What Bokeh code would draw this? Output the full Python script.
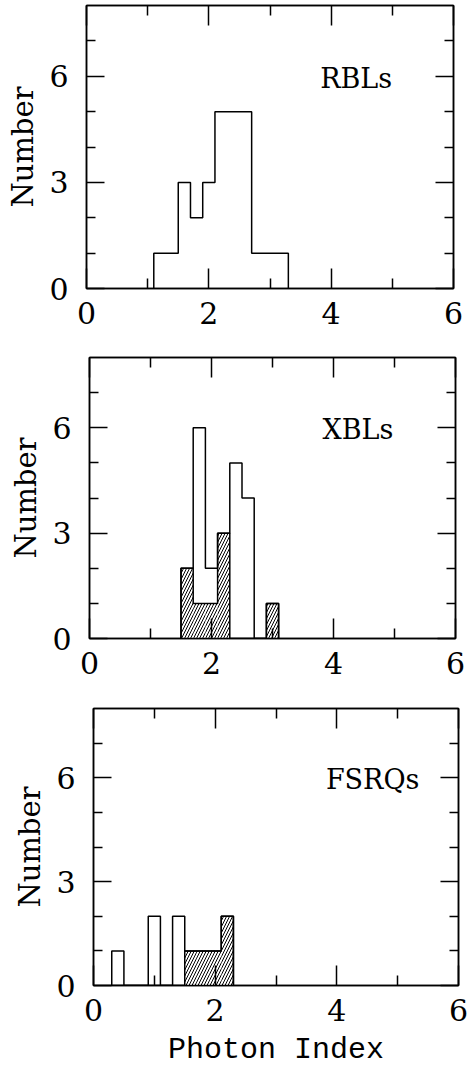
from bokeh.plotting import figure
from bokeh.models import Range1d, LinearAxis, FixedTicker
from bokeh.layouts import column
from bokeh.core.properties import value
from bokeh.embed import file_html
from bokeh.resources import INLINE

# ---------------- data ----------------
bin_width = 0.2

rbl_left = [1.1, 1.3, 1.5, 1.7, 1.9, 2.1, 2.3, 2.5, 2.7, 2.9, 3.1]
rbl_total = [1, 1, 3, 2, 3, 5, 5, 5, 1, 1, 1]

xbl_left = [1.5, 1.7, 1.9, 2.1, 2.3, 2.5, 2.7, 2.9]
xbl_total = [2, 6, 2, 3, 5, 4, 0, 1]
xbl_hatched = [2, 1, 1, 3, 0, 0, 0, 1]

fsrq_left = [0.3, 0.5, 0.7, 0.9, 1.1, 1.3, 1.5, 1.7, 1.9, 2.1]
fsrq_total = [1, 0, 0, 2, 0, 2, 1, 1, 1, 2]
fsrq_hatched = [0, 0, 0, 0, 0, 0, 1, 1, 1, 2]

x_major = [0, 2, 4, 6]
x_minor = [1, 3, 5]
y_major = [0, 3, 6]
y_minor = [1, 2, 4, 5, 7]

labels = ["RBLs", "XBLs", "FSRQs"]
x_label = "Photon Index"
y_label = "Number"

SERIF = "DejaVu Serif"
MONO = "Liberation Mono"


def step_xy(left, counts):
    xs = [left[0]]
    ys = [0]
    for l, c in zip(left, counts):
        xs.append(l)
        ys.append(c)
    xs.append(left[-1] + bin_width)
    ys.append(0)
    return xs, ys


def style_axis(ax, ticks, minor, tick_in, minor_in, show_labels):
    ax.ticker = FixedTicker(ticks=ticks, minor_ticks=minor)
    ax.axis_line_color = "black"
    ax.axis_line_width = 1.5
    ax.major_tick_line_color = "black"
    ax.major_tick_line_width = 1.5
    ax.minor_tick_line_color = "black"
    ax.minor_tick_line_width = 1.5
    ax.major_tick_in = tick_in
    ax.major_tick_out = 0
    ax.minor_tick_in = minor_in
    ax.minor_tick_out = 0
    if show_labels:
        ax.major_label_text_font = SERIF
        ax.major_label_text_font_size = "30px"
        ax.major_label_text_color = "black"
    else:
        ax.major_label_overrides = {t: "" for t in ticks}
        ax.major_label_standoff = 0


def make_panel(left, total, hatched, label, border, fw, fh, show_xlabel):
    bl, bt, br, bb = border
    p = figure(frame_width=fw, frame_height=fh,
               min_border_left=bl, min_border_top=bt,
               min_border_right=br, min_border_bottom=bb,
               x_range=Range1d(0, 6), y_range=Range1d(0, 8),
               output_backend="svg", toolbar_location=None,
               x_axis_location=None, y_axis_location=None)
    p.frame_align = False
    p.grid.visible = False
    p.outline_line_color = "black"
    p.outline_line_width = 1.5
    p.background_fill_color = "white"
    p.border_fill_color = "white"

    bottom = LinearAxis()
    style_axis(bottom, x_major, x_minor, 20, 10, True)
    bottom.major_label_standoff = 13
    if show_xlabel:
        bottom.axis_label = x_label
        bottom.axis_label_text_font = MONO
        bottom.axis_label_text_font_size = "30px"
        bottom.axis_label_text_font_style = "normal"
        bottom.axis_label_text_color = "black"
        bottom.axis_label_standoff = 9
    p.add_layout(bottom, "below")

    top = LinearAxis()
    style_axis(top, x_major, x_minor, 20, 10, False)
    p.add_layout(top, "above")

    left_ax = LinearAxis()
    style_axis(left_ax, y_major, y_minor, 18, 9, True)
    left_ax.major_label_standoff = 18
    left_ax.axis_label = y_label
    left_ax.axis_label_text_font = SERIF
    left_ax.axis_label_text_font_size = "29px"
    left_ax.axis_label_text_font_style = "normal"
    left_ax.axis_label_text_color = "black"
    left_ax.axis_label_standoff = 6
    p.add_layout(left_ax, "left")

    right_ax = LinearAxis()
    style_axis(right_ax, y_major, y_minor, 18, 9, False)
    p.add_layout(right_ax, "right")

    if hatched is not None:
        rights = [l + bin_width for l in left]
        p.quad(left=left, right=rights, bottom=[0] * len(left), top=hatched,
               fill_color="white", line_color=None,
               hatch_pattern="/", hatch_color="black",
               hatch_scale=6, hatch_weight=1.0)
        hx, hy = step_xy(left, hatched)
        p.step(x=hx, y=hy, mode="after", line_color="black", line_width=1.5)

    tx, ty = step_xy(left, total)
    p.step(x=tx, y=ty, mode="after", line_color="black", line_width=1.5)

    p.text(x=[3.82], y=[5.95], text=[label],
           text_font=value(SERIF), text_font_size="27px",
           text_baseline="middle", text_align="left", text_color="black")
    return p


p1 = make_panel(rbl_left, rbl_total, None, labels[0], (86, 5, 15, 42), 367, 283, False)
p2 = make_panel(xbl_left, xbl_total, xbl_hatched, labels[1], (89, 27, 13, 42), 366, 281, False)
p3 = make_panel(fsrq_left, fsrq_total, fsrq_hatched, labels[2], (93, 28, 10, 80), 365, 277, True)

layout = column(p1, p2, p3, spacing=0)
open("out.html", "w").write(file_html(layout, INLINE))
